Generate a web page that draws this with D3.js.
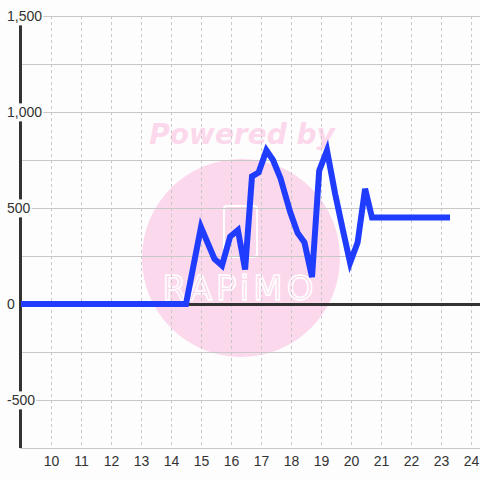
<!DOCTYPE html>
<html>
<head>
<meta charset="utf-8">
<script src="https://cdn.jsdelivr.net/npm/d3@7"></script>
<style>
  body { margin: 0; background: #fff; }
  svg { display: block; font-family: "Liberation Sans", Arial, sans-serif; }
</style>
</head>
<body>
<svg id="chart" width="480" height="480"></svg>
<script>
// hours of the day and readings
var hours = [9, 14.5, 15.0, 15.45, 15.7, 15.97, 16.23, 16.47, 16.7, 16.92, 17.18, 17.4, 17.65, 17.97, 18.22, 18.45, 18.7, 18.94, 19.2, 19.47, 19.73, 19.97, 20.22, 20.47, 20.7, 23.3];
var values = [0, 0, 400, 235, 200, 350, 385, 180, 665, 685, 800, 750, 655, 480, 370, 320, 140, 695, 800, 575, 385, 215, 320, 600, 450, 450];
var xTicks = [10, 11, 12, 13, 14, 15, 16, 17, 18, 19, 20, 21, 22, 23, 24];
var yLabels = [-500, 0, 500, 1000, 1500];
var yGrid = [-750, -500, -250, 250, 500, 750, 1000, 1250, 1500];

var svg = d3.select('#chart');
var W = 480, H = 480;

var x = d3.scaleLinear().domain([9, 24.3]).range([21, 480]);
var y = d3.scaleLinear().domain([-750, 1500]).range([448, 16]);

svg.append('rect').attr('width', W).attr('height', H).attr('fill', '#fdfdfd');

// watermark
var wm = svg.append('g').attr('class', 'watermark');
wm.append('circle')
  .attr('cx', 241).attr('cy', 258).attr('r', 99)
  .attr('fill', '#fcd8ec');
wm.append('text')
  .attr('x', 242).attr('y', 144)
  .attr('text-anchor', 'middle')
  .attr('font-size', 28)
  .attr('font-weight', 'bold')
  .attr('font-style', 'italic')
  .attr('font-family', '"DejaVu Sans", sans-serif')
  .attr('fill', '#fcd8ec')
  .text('Powered by');
wm.append('rect')
  .attr('x', 224).attr('y', 206).attr('width', 33).attr('height', 51).attr('rx', 3)
  .attr('fill', 'none').attr('stroke', '#fff').attr('stroke-width', 2);
wm.append('text')
  .attr('x', 240).attr('y', 300)
  .attr('text-anchor', 'middle')
  .attr('font-size', 34)
  .attr('letter-spacing', 4)
  .attr('font-family', '"DejaVu Sans", sans-serif')
  .attr('fill', 'none').attr('stroke', '#fff').attr('stroke-width', 1.5)
  .text('RAPiMO');

// grid
var grid = svg.append('g').attr('class', 'grid');
grid.selectAll('.vgrid')
  .data(xTicks)
  .enter()
  .append('line')
  .attr('x1', d => x(d) + 0.5).attr('x2', d => x(d) + 0.5)
  .attr('y1', 16).attr('y2', 448)
  .attr('stroke', '#c8c8c8')
  .attr('stroke-dasharray', '3,3');
grid.selectAll('.hgrid')
  .data(yGrid)
  .enter()
  .append('line')
  .attr('x1', 20).attr('x2', W)
  .attr('y1', d => y(d) + 0.5).attr('y2', d => y(d) + 0.5)
  .attr('stroke', '#c8c8c8');

// zero line and left axis
svg.append('line')
  .attr('x1', 20).attr('x2', W)
  .attr('y1', y(0) + 0.5).attr('y2', y(0) + 0.5)
  .attr('stroke', '#333').attr('stroke-width', 3);
svg.append('line')
  .attr('x1', 20.5).attr('x2', 20.5)
  .attr('y1', 16).attr('y2', 448)
  .attr('stroke', '#333').attr('stroke-width', 3);

// y labels with white backing
var fmt = d3.format(',');
var yl = svg.append('g').attr('class', 'ylabels')
  .selectAll('g')
  .data(yLabels)
  .enter()
  .append('g')
  .attr('transform', d => 'translate(7,' + (y(d) + 0.5) + ')');
yl.append('text')
  .attr('x', 0).attr('y', 0)
  .attr('dy', '0.35em')
  .attr('font-size', 14)
  .attr('fill', '#333')
  .text(d => fmt(d).replace('\u2212', '-'))
  .each(function() {
    var b = this.getBBox();
    d3.select(this.parentNode).insert('rect', 'text')
      .attr('x', b.x - 1).attr('y', b.y - 1)
      .attr('width', b.width + 2).attr('height', b.height + 2)
      .attr('fill', '#fdfdfd');
  });

// x labels
svg.append('g').attr('class', 'xlabels')
  .selectAll('text')
  .data(xTicks)
  .enter()
  .append('text')
  .attr('x', d => x(d) + 0.5)
  .attr('y', 466)
  .attr('text-anchor', 'middle')
  .attr('font-size', 14)
  .attr('fill', '#333')
  .text(d => d);

// series
var pts = hours.map((h, i) => [h, values[i]]);
var line = d3.line().x(d => x(d[0])).y(d => y(d[1]));
svg.append('path')
  .datum(pts)
  .attr('d', line)
  .attr('fill', 'none')
  .attr('stroke', '#1f3cff')
  .attr('stroke-width', 6)
  .attr('stroke-linejoin', 'miter');
</script>
</body>
</html>
